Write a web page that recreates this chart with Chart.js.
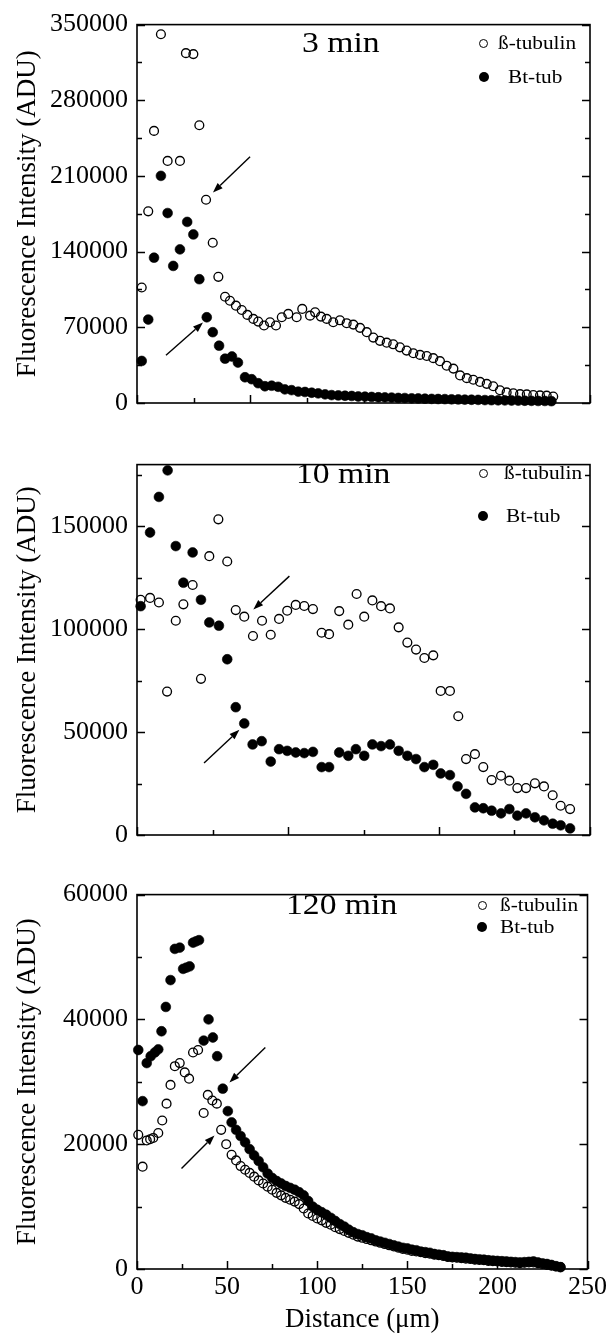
<!DOCTYPE html>
<html><head><meta charset="utf-8">
<script src="https://cdn.jsdelivr.net/npm/chart.js@4.4.1/dist/chart.umd.min.js"></script>
<style>
html,body{margin:0;padding:0;background:#fff;}
#wrap{position:relative;width:610px;height:1336px;overflow:hidden;background:#fff;}
canvas{position:absolute;left:0;}
.ttl{position:absolute;font-family:'Liberation Serif','Times New Roman',serif;font-size:29px;line-height:29px;white-space:nowrap;transform:scaleX(1.16);transform-origin:0 0;color:#000;}
.lg{position:absolute;font-family:'Liberation Serif','Times New Roman',serif;font-size:19px;line-height:19px;white-space:nowrap;transform:scaleX(1.12);transform-origin:0 0;color:#000;}
.mk{position:absolute;border-radius:50%;box-sizing:border-box;}
.mk.o{width:9px;height:9px;border:1.5px solid #000;}
.mk.f{width:10px;height:10px;background:#000;}
</style></head>
<body>
<div id="wrap">
  <canvas id="c1" width="610" height="440" style="top:0px"></canvas>
  <canvas id="c2" width="610" height="430" style="top:440px"></canvas>
  <canvas id="c3" width="610" height="466" style="top:870px"></canvas>

  <div class="ttl" id="t1" style="left:302px;top:28px"></div>
  <div class="mk o" style="left:479px;top:39px"></div>
  <div class="lg" id="l1a" style="left:498px;top:33px"></div>
  <div class="mk f" style="left:479px;top:72px"></div>
  <div class="lg" id="l1b" style="left:508px;top:67px"></div>

  <div class="ttl" id="t2" style="left:296px;top:459px"></div>
  <div class="mk o" style="left:479px;top:469px"></div>
  <div class="lg" id="l2a" style="left:504px;top:463px"></div>
  <div class="mk f" style="left:478px;top:511px"></div>
  <div class="lg" id="l2b" style="left:506px;top:506px"></div>

  <div class="ttl" id="t3" style="left:286px;top:890px"></div>
  <div class="mk o" style="left:478px;top:901px"></div>
  <div class="lg" id="l3a" style="left:500px;top:895px"></div>
  <div class="mk f" style="left:477px;top:922px"></div>
  <div class="lg" id="l3b" style="left:500px;top:917px"></div>
</div>
<script>
// ---------- DATA ----------
const panelTitles = ['3 min', '10 min', '120 min'];
const seriesNames = ['ß-tubulin', 'Bt-tub'];
const xAxisTitle = 'Distance (μm)';
const yAxisTitle = 'Fluorescence Intensity (ADU)';
const xTickLabels = [0, 50, 100, 150, 200, 250];
const yMaxes = [350000, 180000, 60000];
const yTicks3 = [0,35000,70000,105000,140000,175000,210000,245000,280000,315000,350000];
const yTicks10 = [0,25000,50000,75000,100000,125000,150000,175000];
const yTicks120 = [0,10000,20000,30000,40000,50000,60000];
const yLabels3 = [0,70000,140000,210000,280000,350000];
const yLabels10 = [0,50000,100000,150000];
const yLabels120 = [0,20000,40000,60000];
const xTicks3 = [0,31.25,62.5,93.75,125,156.25,187.5,218.75,250];
const xTicks10 = [0,41.667,83.333,125,166.667,208.333,250];
const xTicks120 = [0,25,50,75,100,125,150,175,200,225,250];

// 3 min
const dist3Tub = [2.6,6.2,9.4,13.2,16.9,23.7,27.0,31.1,34.4,38.1,41.8,44.9,48.6,51.3,54.6,57.8,60.9,64.2,66.9,70.1,73.4,76.7,79.9,83.5,88.1,91.2,95.5,98.3,101.5,104.7,108.3,112.0,115.7,119.4,123.1,126.8,130.4,134.1,137.8,141.4,145.1,148.8,152.5,156.2,159.9,163.5,167.2,170.9,174.6,178.3,182.0,185.6,189.3,193.0,196.6,200.3,204.0,207.7,211.4,215.1,218.7,222.4,226.1,229.7];
const val3Tub = [106800,177300,251700,341100,223900,223900,323600,322700,256900,188000,148200,116700,98300,94600,90000,86000,81500,77800,75300,71700,74700,71700,79300,82400,79300,87000,80800,83900,79900,77800,74700,76500,73800,72500,69500,65500,60500,57500,55800,54300,51500,48500,46000,44500,43500,41500,38700,34500,31800,25500,23000,21500,19500,17700,15500,11800,9800,9000,8200,8000,7400,7000,6800,6000];
const dist3Bt = [2.6,6.2,9.4,13.2,16.9,20.0,23.7,27.7,31.1,34.4,38.5,41.8,45.3,48.6,52.4,55.7,59.6,63.3,66.9,70.6,74.3,77.9,81.6,85.3,89.0,92.7,96.4,100.0,103.8,107.4,111.1,114.8,118.5,122.1,125.8,129.5,133.2,136.8,140.5,144.2,147.8,151.6,155.2,158.9,162.6,166.2,169.9,173.6,177.3,180.9,184.6,188.3,192.0,195.6,199.3,203.0,206.7,210.4,214.0,217.7,221.4,225.1,228.7];
const val3Bt = [38900,77200,134400,210100,175700,126800,142100,167500,155900,114500,79300,65500,53000,41000,43000,37400,23800,22000,18300,15500,16000,15000,12600,11900,10500,10200,9500,8900,8000,7300,7000,6700,6500,6000,5900,5600,5300,5200,5000,4700,4600,4300,4200,4000,3800,3700,3600,3400,3300,3100,3000,2900,2700,2600,2500,2400,2300,2200,2100,2000,1900,1900,1700];

// 10 min
const dist10Tub = [2.0,7.2,12.1,16.6,21.4,25.6,30.7,35.3,39.9,44.9,49.8,54.5,59.2,64.0,69.0,73.8,78.4,82.9,87.6,92.3,97.1,101.9,106.0,111.6,116.6,121.2,125.4,129.9,134.7,139.6,144.4,149.2,154.0,158.6,163.5,167.6,172.7,177.3,181.6,186.5,191.1,195.7,200.9,205.5,209.9,214.7,219.6,224.6,229.4,233.8,239.0];
const val10Tub = [114300,115200,113000,69700,104100,112100,121500,75900,135500,153400,132900,109300,106100,96700,104100,97300,105000,109000,111800,111300,109800,98300,97600,108800,102200,117100,106100,114000,111200,110100,100900,93500,90100,86000,87300,70000,70000,57700,36900,39300,33000,26700,28800,26400,22800,22800,25100,23600,19300,14200,12600];
const dist10Bt = [2.0,7.2,12.1,16.9,21.4,25.6,30.7,35.3,39.9,45.2,49.8,54.5,59.2,63.8,68.8,73.8,78.4,82.9,87.6,92.3,97.1,101.9,106.0,111.6,116.6,120.8,125.4,129.9,134.7,139.6,144.4,149.2,154.0,158.6,163.5,167.6,172.7,176.9,181.6,186.5,191.1,195.7,200.9,205.5,209.9,214.7,219.6,224.6,229.4,233.8,239.0];
const val10Bt = [111200,147000,164300,177200,140400,122600,137300,114300,103300,101700,85400,62100,54200,44000,45600,35700,41700,40900,40100,39800,40400,33000,33000,40100,38500,41700,38500,44000,43200,44000,40900,38500,36900,33000,34100,29900,29100,23600,20000,13400,13000,11800,10500,12600,9400,10500,8600,7100,5500,4700,3200];

// 120 min
const dist120TubHead = [0.7,3.1,5.4,7.3,9.0,11.8,14.0,16.4,18.6,21.0,23.7,26.5,28.9,31.1,33.9,37.0,39.3,41.8,44.3,46.7,49.5];
const val120TubHead = [21500,16400,20600,20800,21000,21800,23800,26500,29500,32500,33000,31500,30500,34700,35100,25000,27900,27000,26500,22300,20000];
const dist120BtHead = [0.7,3.1,5.4,7.6,9.9,11.8,13.6,16.0,18.6,21.0,23.7,25.6,27.4,29.2,31.1,32.7,34.4,37.0,39.7,42.1,44.5,47.6,50.4];
const val120BtHead = [35100,26900,33000,34100,34700,35200,38100,42000,46300,51300,51500,48100,48300,48500,52300,52500,52700,36600,40000,37100,34100,28900,25300];
const dist120Tail = [52.5,55,57.5,60,62.5,65,67.5,70,72.5,75,77.5,80,82.5,85,87.5,90,92.5,95,97.5,100,102.5,105,107.5,110,112.5,115,117.5,120,122.5,125,127.5,130,132.5,135,137.5,140,142.5,145,147.5,150,152.5,155,157.5,160,162.5,165,167.5,170,172.5,175,177.5,180,182.5,185,187.5,190,192.5,195,197.5,200,202.5,205,207.5,210,212.5,215,217.5,220,222.5,225,227.5,230,232.5,235];
const val120TubTail = [18300,17400,16500,15900,15400,14800,14200,13700,13200,12700,12200,11800,11400,11100,10800,10400,9700,8900,8500,8100,7800,7400,7100,6700,6400,6100,5800,5500,5200,5000,4800,4600,4400,4200,4000,3800,3600,3400,3200,3100,2900,2800,2700,2550,2450,2300,2200,2100,1950,1850,1800,1750,1650,1600,1500,1450,1400,1300,1250,1200,1150,1100,1050,1000,950,1000,1050,1050,950,800,650,550,400,300];
const val120BtTail = [23500,22300,21300,20300,19200,18200,17300,16300,15300,14600,14100,13700,13300,13000,12700,12300,11800,10900,10000,9500,9100,8700,8200,7700,7200,6800,6300,5900,5600,5400,5100,4900,4600,4400,4200,4000,3800,3600,3400,3300,3100,3000,2800,2700,2600,2400,2300,2200,2000,1950,1900,1850,1800,1700,1600,1550,1500,1400,1350,1300,1250,1200,1150,1100,1050,1100,1150,1200,1050,900,800,650,450,300];
const dist120Tub = dist120TubHead.concat(dist120Tail);
const val120Tub = val120TubHead.concat(val120TubTail);
const dist120Bt = dist120BtHead.concat(dist120Tail);
const val120Bt = val120BtHead.concat(val120BtTail);

// arrow annotations in data units: [fromX, fromY, toX, toY]
const arrows3 = [[62.4,227800,41.9,194700],[16.0,44100,36.4,74400]];
const arrows10 = [[84.1,125800,64.2,109600],[37.0,35000,56.5,51100]];
const arrows120 = [[71.2,35500,51.3,29900],[24.7,16100,43.0,21400]];

// ---------- RENDER ----------
const FONT = "'Liberation Serif','Times New Roman',serif";
function pts(xs, ys){ return xs.map((x,i)=>({x:x, y:ys[i]})); }

const framePlugin = {
  id: 'frame',
  afterDatasetsDraw(chart, args, opts){
    const ctx = chart.ctx;
    const {left, right, top, bottom} = chart.chartArea;
    const xs = chart.scales.x, ys = chart.scales.y;
    ctx.save();
    ctx.strokeStyle = '#000';
    ctx.lineWidth = 1.5;
    ctx.lineCap = 'butt';
    ctx.beginPath();
    ys.ticks.forEach((t,i)=>{
      const p = Math.round(ys.getPixelForValue(t.value)) + 0.5;
      const L = (i % 2 === 0) ? 8 : 5;
      ctx.moveTo(left, p); ctx.lineTo(left + L, p);
      ctx.moveTo(right, p); ctx.lineTo(right - L, p);
    });
    xs.ticks.forEach((t,i)=>{
      const p = Math.round(xs.getPixelForValue(t.value)) + 0.5;
      const L = (i % 2 === 0) ? 8 : 5;
      ctx.moveTo(p, bottom); ctx.lineTo(p, bottom - L);
    });
    ctx.stroke();
    ctx.lineWidth = 1.6;
    ctx.strokeRect(left, top, right - left, bottom - top);
    (opts.arrows || []).forEach(a=>{
      const x1 = xs.getPixelForValue(a[0]), y1 = ys.getPixelForValue(a[1]);
      const x2 = xs.getPixelForValue(a[2]), y2 = ys.getPixelForValue(a[3]);
      const ang = Math.atan2(y2 - y1, x2 - x1);
      const hl = 10, hw = 3.6;
      const bx = x2 - hl*Math.cos(ang), by = y2 - hl*Math.sin(ang);
      ctx.lineWidth = 1.4;
      ctx.beginPath(); ctx.moveTo(x1, y1); ctx.lineTo(bx, by); ctx.stroke();
      ctx.beginPath();
      ctx.moveTo(x2, y2);
      ctx.lineTo(bx + hw*Math.sin(ang), by - hw*Math.cos(ang));
      ctx.lineTo(bx - hw*Math.sin(ang), by + hw*Math.cos(ang));
      ctx.closePath();
      ctx.fillStyle = '#000'; ctx.fill();
    });
    ctx.restore();
  }
};

function makePanel(id, yMax, yTicks, yLabels, xTicks, tub, bt, arrows, padTop, xHeight, showX){
  return new Chart(document.getElementById(id), {
    type: 'scatter',
    data: { datasets: [
      { label: seriesNames[0], data: tub, pointStyle: 'circle', pointRadius: 4.4, pointBorderWidth: 1.35,
        borderColor: '#000', backgroundColor: 'rgba(0,0,0,0)', order: 2, clip: false },
      { label: seriesNames[1], data: bt, pointStyle: 'circle', pointRadius: 4.9, pointBorderWidth: 0.6,
        borderColor: '#000', backgroundColor: '#000', order: 1, clip: false }
    ]},
    options: {
      responsive: false, animation: false, devicePixelRatio: 1, events: [],
      layout: { padding: { top: padTop, right: 20, left: 0, bottom: 0 } },
      plugins: { legend: { display: false }, tooltip: { enabled: false }, frame: { arrows: arrows } },
      scales: {
        x: {
          type: 'linear', min: 0, max: 250,
          afterBuildTicks(s){ s.ticks = xTicks.map(v=>({value: v})); },
          afterFit(s){ s.height = xHeight; },
          grid: { display: false, drawTicks: false }, border: { display: false },
          ticks: { display: showX, autoSkip: false, maxRotation: 0, minRotation: 0,
                   padding: 3, color: '#000', font: { family: FONT, size: 26 },
                   callback: (v)=> xTickLabels.includes(v) ? String(v) : '' },
          title: { display: showX, text: xAxisTitle, color: '#000', font: { family: FONT, size: 27 }, padding: { top: 0, bottom: 0 } }
        },
        y: {
          min: 0, max: yMax,
          afterBuildTicks(s){ s.ticks = yTicks.map(v=>({value: v})); },
          afterFit(s){ s.width = 137; },
          grid: { display: false, drawTicks: false }, border: { display: false },
          ticks: { autoSkip: false, padding: 9, color: '#000', font: { family: FONT, size: 26 },
                   callback: (v)=> yLabels.includes(v) ? String(v) : '' },
          title: { display: true, text: yAxisTitle, color: '#000', font: { family: FONT, size: 27 }, padding: { top: 12, bottom: 0 } }
        }
      }
    },
    plugins: [framePlugin]
  });
}

makePanel('c1', yMaxes[0], yTicks3, yLabels3, xTicks3, pts(dist3Tub, val3Tub), pts(dist3Bt, val3Bt), arrows3, 22, 37, false);
makePanel('c2', yMaxes[1], yTicks10, yLabels10, xTicks10, pts(dist10Tub, val10Tub), pts(dist10Bt, val10Bt), arrows10, 13, 35, false);
makePanel('c3', yMaxes[2], yTicks120, yLabels120, xTicks120, pts(dist120Tub, val120Tub), pts(dist120Bt, val120Bt), arrows120, 14, 67, true);

['t1','t2','t3'].forEach((id,i)=>{ document.getElementById(id).textContent = panelTitles[i]; });
['l1a','l2a','l3a'].forEach(id=>{ document.getElementById(id).textContent = seriesNames[0]; });
['l1b','l2b','l3b'].forEach(id=>{ document.getElementById(id).textContent = seriesNames[1]; });
</script>
</body></html>
